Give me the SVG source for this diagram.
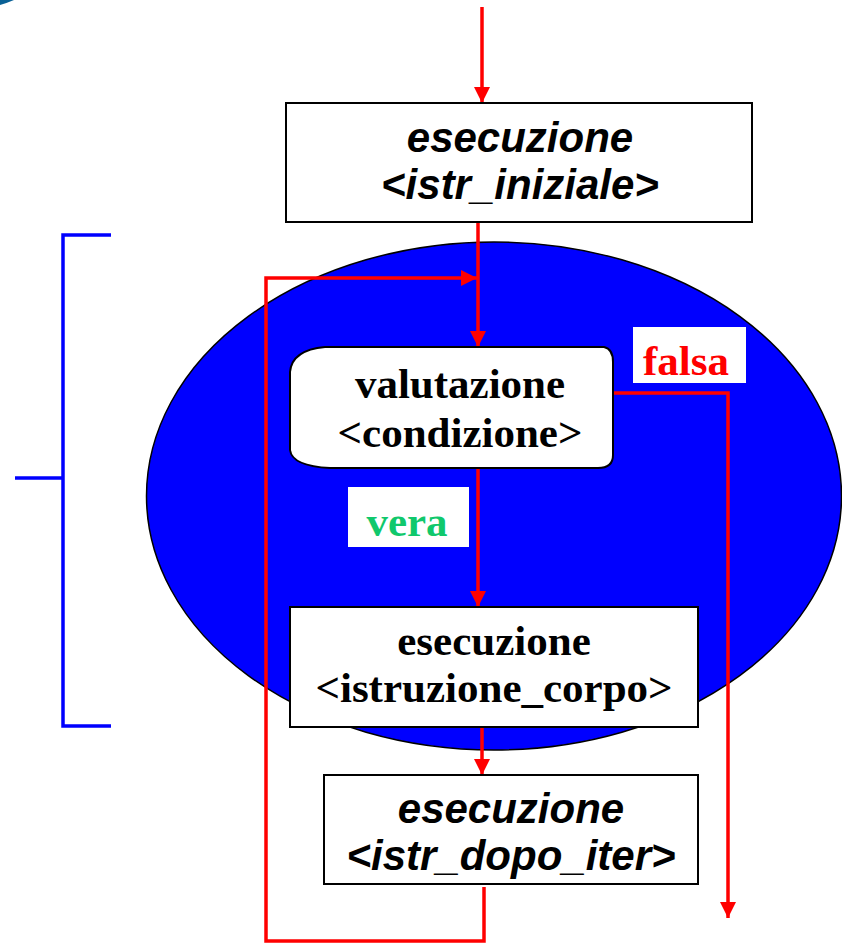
<svg xmlns="http://www.w3.org/2000/svg" width="842" height="943" viewBox="0 0 842 943">
<style>
.box{fill:#fff;stroke:#000;stroke-width:2}
.lbl{fill:#fff}
.ti{font-family:"Liberation Sans",Arial,sans-serif;font-weight:bold;font-style:italic;font-size:42px;text-anchor:middle;fill:#000}
.tr{font-family:"Liberation Serif","Times New Roman",serif;font-weight:bold;font-size:43px;text-anchor:middle;fill:#000}
.red{fill:none;stroke:#ff0000;stroke-width:3.5}
.blue{fill:none;stroke:#0000ff;stroke-width:3.5}
</style>
<defs>
<marker id="ah" markerUnits="userSpaceOnUse" markerWidth="16" markerHeight="16" viewBox="0 0 16 16" refX="16" refY="8" orient="auto">
<path d="M0,0 L16,8 L0,16 Z" fill="#ff0000"/>
</marker>
</defs>
<path d="M0,0 L14,0 Q7,3 0,5 Z" fill="#0a6196"/>
<g id="bracket">
<path class="blue" d="M111,235 L63,235 L63,726 L111,726 M15,478 L63,478"/>
</g>
<g id="ellipse">
<ellipse cx="494" cy="496" rx="347.5" ry="254" fill="#0000ff" stroke="#000" stroke-width="1.5"/>
</g>
<g id="connectors">
<line class="red" x1="482" y1="7" x2="482" y2="103" marker-end="url(#ah)"/>
<line class="red" x1="478" y1="222" x2="478" y2="347" marker-end="url(#ah)"/>
<path class="red" d="M484,887 L484,941 L266,941 L266,278 L477,278" marker-end="url(#ah)"/>
<line class="red" x1="478" y1="461" x2="478" y2="607" marker-end="url(#ah)"/>
<line class="red" x1="482" y1="727" x2="482" y2="775" marker-end="url(#ah)"/>
<path class="red" d="M613,393 L728,393 L728,918" marker-end="url(#ah)"/>
</g>
<g id="istr_iniziale">
<rect class="box" x="286" y="103" width="466" height="119"/>
<text class="ti" x="520" y="152">esecuzione</text>
<text class="ti" x="520" y="199">&lt;istr_iniziale&gt;</text>
</g>
<g id="condizione">
<path class="box" d="M325,347 L604,347 Q613,349 613,362 L613,455 Q613,468 598,468 L330,468 Q292,466 290,450 L290,372 Q292,350 325,347 Z"/>
<text class="tr" x="460" y="398">valutazione</text>
<text class="tr" x="460" y="447">&lt;condizione&gt;</text>
</g>
<g id="label_falsa">
<rect class="lbl" x="633" y="327" width="113" height="56"/>
<text class="tr" x="686" y="375" style="fill:#ff0000">falsa</text>
</g>
<g id="label_vera">
<rect class="lbl" x="348" y="487" width="121" height="60"/>
<text class="tr" x="407" y="536" style="fill:#10c86c">vera</text>
</g>
<g id="istruzione_corpo">
<rect class="box" x="290" y="607" width="408" height="120"/>
<text class="tr" x="494" y="655">esecuzione</text>
<text class="tr" x="494" y="702">&lt;istruzione_corpo&gt;</text>
</g>
<g id="istr_dopo_iter">
<rect class="box" x="324" y="775" width="374" height="109"/>
<text class="ti" x="511" y="823">esecuzione</text>
<text class="ti" x="511" y="870">&lt;istr_dopo_iter&gt;</text>
</g>
</svg>
